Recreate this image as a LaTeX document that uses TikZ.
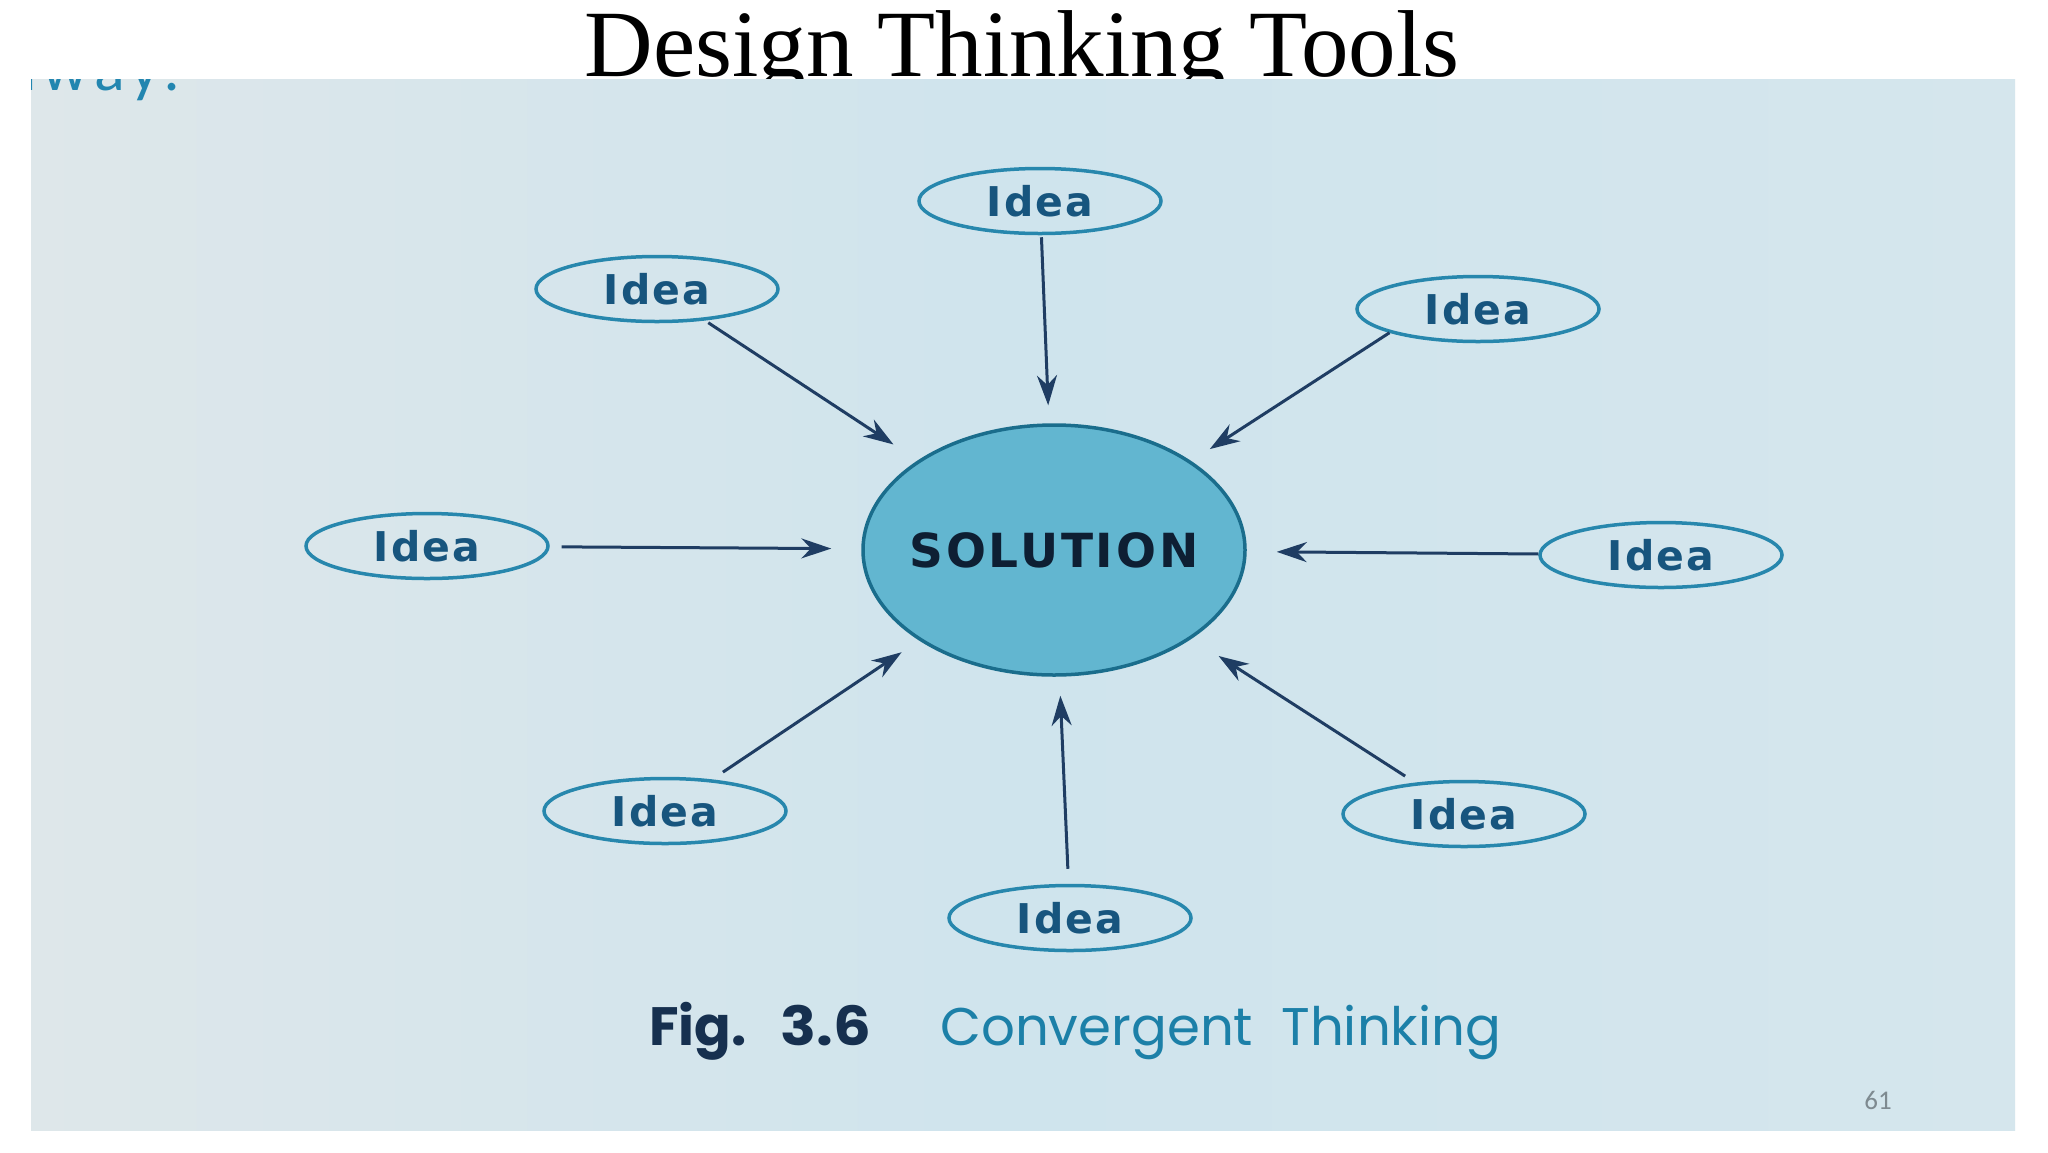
\documentclass[tikz,border=0pt]{standalone}
\usepackage{fontspec}
\setmainfont{Liberation Serif}
\newfontfamily\ideafont{DejaVu Sans}
\newfontfamily\capfont{Poppins}
\newfontfamily\numfont{Carlito}
\usetikzlibrary{shapes.geometric,arrows.meta}
\definecolor{panelL}{HTML}{DEE7EA}
\definecolor{panelM}{HTML}{CFE4ED}
\definecolor{panelR}{HTML}{D5E6ED}
\definecolor{ideaedge}{HTML}{2787AD}
\definecolor{ideatext}{HTML}{17557E}
\definecolor{solfill}{HTML}{62B6D0}
\definecolor{soledge}{HTML}{1A6D8C}
\definecolor{soltext}{HTML}{0E1F33}
\definecolor{arrowc}{HTML}{1F3D63}
\definecolor{figc}{HTML}{16304F}
\definecolor{convc}{HTML}{1C80A8}
\definecolor{wayc}{HTML}{2286B0}
\definecolor{numc}{HTML}{7E8A90}
\tikzset{
  idea/.style={ellipse, draw=ideaedge, line width=3.5pt, minimum width=242pt,
    minimum height=65pt, inner sep=0pt, text=ideatext,
    font=\ideafont\bfseries\fontsize{41}{41}\selectfont\addfontfeature{LetterSpace=5}},
  sol/.style={ellipse, draw=soledge, fill=solfill, line width=3.5pt,
    minimum width=382pt, minimum height=250pt, inner sep=0pt, text=soltext,
    font=\ideafont\bfseries\fontsize{47}{47}\selectfont\addfontfeature{LetterSpace=6}},
  conn/.style={draw=arrowc, line width=3pt,
    -{Stealth[length=30pt,width=20pt]}, shorten <=4pt},
}
\begin{document}
\begin{tikzpicture}[x=1pt,y=-1pt]
\useasboundingbox (0,0) rectangle (2048,1152);
\fill[white] (0,0) rectangle (2048,1152);
% title (descenders hidden by the panel)
\node[anchor=base, inner sep=0pt, font=\fontsize{95}{100}\selectfont] (title) at (1022,76) {Design Thinking Tools};
% panel
\shade[left color=panelL, right color=panelR, middle color=panelM] (31,79) rectangle (2015,1130);
\begin{scope}
  \clip (31,79) rectangle (2015,1130);
  \node[anchor=base west, inner sep=0pt, text=wayc, font=\numfont\fontsize{64}{64}\selectfont\addfontfeature{LetterSpace=10}] (way) at (22,90) {l\hspace{6pt}way\hspace{4pt}:};
\end{scope}
% nodes
\node[sol] (sol) at (1054,550) {\makebox[0pt]{SOLUTION}};
\node[idea] (i1) at (1040,201) {Idea};
\node[idea] (i2) at (657,289) {Idea};
\node[idea] (i3) at (1478,309) {Idea};
\node[idea] (i4) at (427,546) {Idea};
\node[idea] (i5) at (1661,555) {Idea};
\node[idea] (i6) at (665,811) {Idea};
\node[idea] (i7) at (1464,814) {Idea};
\node[idea] (i8) at (1070,918) {Idea};
% connectors
\draw[conn, shorten >=18pt, shorten <=2pt] (i1) -- (sol);
\draw[conn, shorten >=29pt] (i2) -- (sol);
\draw[conn, shorten >=22pt, shorten <=0pt] (i3.195) -- (sol);
\draw[conn, shorten >=30pt, shorten <=12pt] (i4) -- (sol);
\draw[conn, shorten >=30pt, shorten <=0pt] (i5) -- (sol);
\draw[conn, shorten >=21pt, shorten <=13pt] (i6) -- (sol);
\draw[conn, shorten >=32pt, shorten <=12pt] (i7) -- (sol);
\draw[conn, shorten >=19pt, shorten <=15pt] (i8) -- (sol);
% caption
\node[anchor=base west, inner sep=0pt, text=figc, font=\capfont\bfseries\fontsize{54}{54}\selectfont] (fig) at (649,1045) {Fig.\hspace{34pt}\scalebox{1.1}[1]{3.6}};
\node[anchor=base west, inner sep=0pt, text=convc, font=\capfont\fontsize{53}{53}\selectfont] (conv) at (940,1045) {Convergent\hspace{14pt} Thinking};
\node[anchor=base, inner sep=0pt, text=numc, font=\numfont\fontsize{27}{27}\selectfont] (num) at (1878,1109) {61};
\end{tikzpicture}
\end{document}
